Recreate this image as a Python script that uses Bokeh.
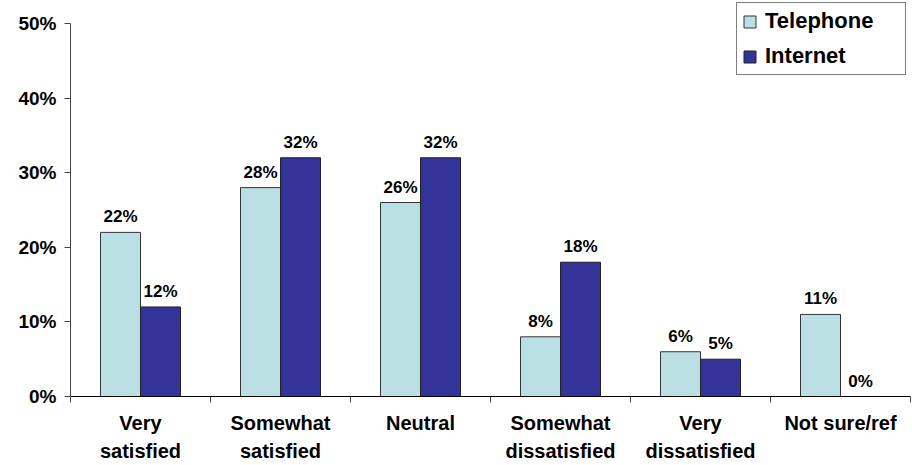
import numpy as np
from bokeh.plotting import figure
from bokeh.models import (ColumnDataSource, FixedTicker, Range1d, LabelSet,
                          Legend, LegendItem)
from bokeh.core.properties import value
from bokeh.embed import file_html
from bokeh.resources import INLINE

categories = ["Very\nsatisfied", "Somewhat\nsatisfied", "Neutral",
              "Somewhat\ndissatisfied", "Very\ndissatisfied", "Not sure/ref"]
telephone = [22, 28, 26, 8, 6, 11]
internet = [12, 32, 32, 18, 5, 0]
y_ticks = [0, 10, 20, 30, 40, 50]
y_tick_labels = ["0%", "10%", "20%", "30%", "40%", "50%"]

FONT = "Liberation Sans"
TEL_COLOR = "#BBE0E3"
NET_COLOR = "#333399"
BAR_W = 40 / 140

# frame spans page y 0..396; the 0..50% axis spans 373 px of it
Y_AXIS_MAX = 0.5
Y_RANGE_END = Y_AXIS_MAX * 396 / 373

idx = np.arange(len(categories))
centers = idx + 0.5

tel_src = ColumnDataSource(dict(
    x=centers - BAR_W / 2, top=[v / 100 for v in telephone],
    lbl=[f"{v}%" for v in telephone]))
net_src = ColumnDataSource(dict(
    x=centers + BAR_W / 2, top=[v / 100 for v in internet],
    lbl=[f"{v}%" for v in internet]))

p = figure(width=912, height=465, output_backend="svg", toolbar_location=None,
           x_range=Range1d(0, len(categories)), y_range=Range1d(0, Y_RANGE_END),
           min_border_left=70, min_border_right=2, min_border_top=0,
           min_border_bottom=69)
p.outline_line_color = None
p.xgrid.grid_line_color = None
p.ygrid.grid_line_color = None
p.background_fill_color = "white"
p.border_fill_color = "white"

r_tel = p.vbar(x="x", top="top", width=BAR_W, bottom=0, source=tel_src,
               fill_color=TEL_COLOR, line_color="#333333", line_width=1)
r_net = p.vbar(x="x", top="top", width=BAR_W, bottom=0, source=net_src,
               fill_color=NET_COLOR, line_color="#222222", line_width=1)

for src in (tel_src, net_src):
    p.add_layout(LabelSet(x="x", y="top", text="lbl", source=src,
                          y_offset=10, text_align="center",
                          text_baseline="alphabetic",
                          text_font=value(FONT), text_font_style="bold",
                          text_font_size="17px", text_color="black"))

# y axis
p.yaxis.ticker = FixedTicker(ticks=[t / 100 for t in y_ticks])
p.yaxis.bounds = (0, Y_AXIS_MAX)
p.yaxis.major_label_overrides = {t / 100: l for t, l in zip(y_ticks, y_tick_labels)}
p.yaxis.major_label_text_font = FONT
p.yaxis.major_label_text_font_style = "bold"
p.yaxis.major_label_text_font_size = "19px"
p.yaxis.major_label_text_color = "black"
p.yaxis.major_tick_in = 0
p.yaxis.major_tick_out = 6
p.yaxis.minor_tick_line_color = None
p.yaxis.axis_line_color = "#444444"
p.yaxis.major_tick_line_color = "#444444"
p.yaxis.major_label_standoff = 8

# x axis
p.xaxis.ticker = FixedTicker(ticks=list(centers),
                             minor_ticks=list(range(len(categories) + 1)))
p.xaxis.major_label_overrides = {float(c): l for c, l in zip(centers, categories)}
p.xaxis.major_label_text_font = FONT
p.xaxis.major_label_text_font_style = "bold"
p.xaxis.major_label_text_font_size = "20px"
p.xaxis.major_label_text_color = "black"
p.xaxis.major_label_text_line_height = 1.3
p.xaxis.major_tick_in = 0
p.xaxis.major_tick_out = 0
p.xaxis.minor_tick_in = 0
p.xaxis.minor_tick_out = 6
p.xaxis.minor_tick_line_color = "#444444"
p.xaxis.axis_line_color = "black"
p.xaxis.major_label_standoff = 9

legend = Legend(items=[LegendItem(label="Telephone", renderers=[r_tel]),
                       LegendItem(label="Internet", renderers=[r_net])],
                location=(666, 321), orientation="vertical",
                label_text_font=FONT, label_text_font_style="bold",
                label_text_font_size="22px", label_text_color="black",
                glyph_width=15, glyph_height=15, label_standoff=8,
                label_height=26, label_width=135, spacing=9, padding=5,
                margin=0, border_line_color="black", border_line_width=1,
                background_fill_alpha=1.0)
p.add_layout(legend)

open("out.html", "w").write(file_html(p, INLINE))
